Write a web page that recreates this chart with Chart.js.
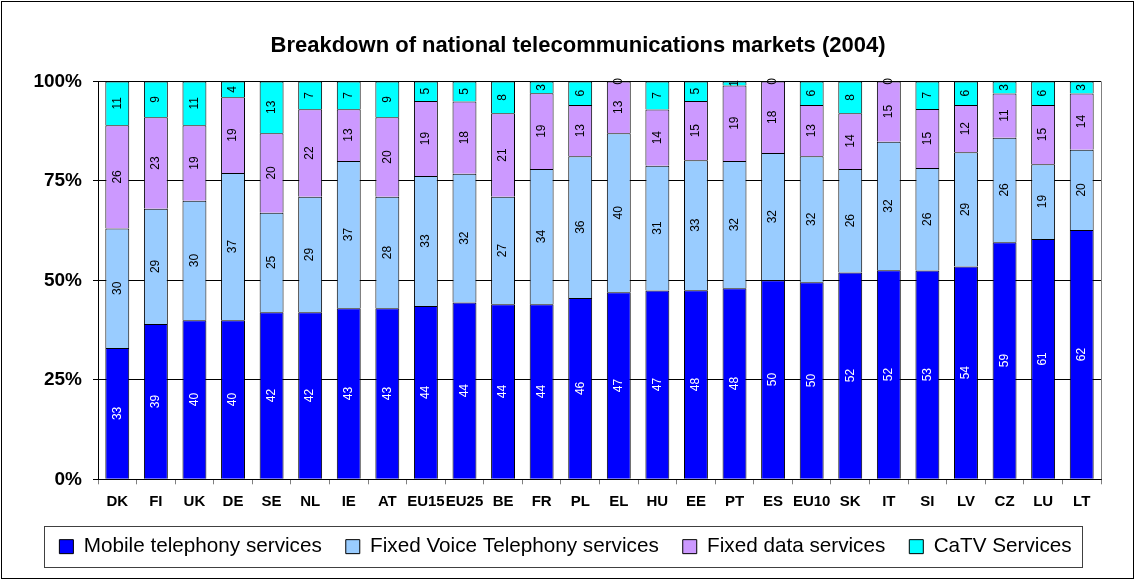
<!DOCTYPE html>
<html>
<head>
<meta charset="utf-8">
<script src="https://cdn.jsdelivr.net/npm/chart.js@4.4.1/dist/chart.umd.min.js"></script>
<style>
  html, body { margin: 0; padding: 0; background: #fff; }
</style>
</head>
<body>
<canvas id="chart" width="1136" height="581"></canvas>
<script>
// Breakdown of national telecommunications markets (2004), values in %
const countries = ['DK', 'FI', 'UK', 'DE', 'SE', 'NL', 'IE', 'AT', 'EU15', 'EU25', 'BE', 'FR', 'PL',
  'EL', 'HU', 'EE', 'PT', 'ES', 'EU10', 'SK', 'IT', 'SI', 'LV', 'CZ', 'LU', 'LT'];
const mobile     = [33, 39, 40, 40, 42, 42, 43, 43, 44, 44, 44, 44, 46, 47, 47, 48, 48, 50, 50, 52, 52, 53, 54, 59, 61, 62];
const fixedVoice = [30, 29, 30, 37, 25, 29, 37, 28, 33, 32, 27, 34, 36, 40, 31, 33, 32, 32, 32, 26, 32, 26, 29, 26, 19, 20];
const fixedData  = [26, 23, 19, 19, 20, 22, 13, 20, 19, 18, 21, 19, 13, 13, 14, 15, 19, 18, 13, 14, 15, 15, 12, 11, 15, 14];
const catv       = [11,  9, 11,  4, 13,  7,  7,  9,  5,  5,  8,  3,  6,  0,  7,  5,  1,  0,  6,  8,  0,  7,  6,  3,  6,  3];
const yTicks = [0, 25, 50, 75, 100];

const FONT = 'Arial, "Liberation Sans", sans-serif';
Chart.defaults.font.family = FONT;
Chart.defaults.color = '#000';

// 100% stacked: each column is scaled to its own total
const totals = countries.map((c, i) => mobile[i] + fixedVoice[i] + fixedData[i] + catv[i]);
const share = arr => arr.map((v, i) => v / totals[i] * 100);

function series(label, values, color, textColor) {
  return {
    label,
    data: share(values),
    values,
    textColor,
    backgroundColor: color,
    borderColor: '#000',
    borderWidth: 1,
    categoryPercentage: 1,
    barPercentage: 0.62
  };
}

// rotated value labels in the middle of each segment
const barLabels = {
  id: 'barLabels',
  afterDatasetsDraw(chart) {
    const ctx = chart.ctx;
    ctx.save();
    ctx.font = '12px ' + FONT;
    ctx.textAlign = 'center';
    ctx.textBaseline = 'middle';
    chart.data.datasets.forEach((ds, di) => {
      chart.getDatasetMeta(di).data.forEach((bar, i) => {
        ctx.save();
        ctx.translate(bar.x, (bar.y + bar.base) / 2);
        ctx.rotate(-Math.PI / 2);
        ctx.fillStyle = ds.textColor;
        ctx.fillText(String(ds.values[i]), 0, 0);
        ctx.restore();
      });
    });
    ctx.restore();
  }
};

// white background, outer frame, plot right edge and legend box
const frame = {
  id: 'frame',
  afterLayout(chart) {
    // title sits a bit right of the legend's centre in the original
    const t = chart.titleBlock;
    t.left += 25;
    t.width = t.right - t.left;
  },
  beforeDraw(chart) {
    const ctx = chart.ctx;
    ctx.save();
    ctx.fillStyle = '#fff';
    ctx.fillRect(0, 0, chart.width, chart.height);
    ctx.restore();
  },
  afterDraw(chart) {
    const ctx = chart.ctx;
    const area = chart.chartArea;
    ctx.save();
    ctx.lineWidth = 1;
    ctx.strokeStyle = '#808080';
    ctx.beginPath();
    ctx.moveTo(Math.round(area.right) + 0.5, area.top);
    ctx.lineTo(Math.round(area.right) + 0.5, area.bottom);
    ctx.stroke();

    ctx.strokeStyle = '#000';
    ctx.strokeRect(1.5, 1.5, chart.width - 4, chart.height - 4);

    const boxes = chart.legend.legendHitBoxes;
    if (boxes && boxes.length) {
      const left = Math.min(...boxes.map(b => b.left)) - 15;
      const right = Math.max(...boxes.map(b => b.left + b.width)) + 11;
      const mid = boxes[0].top + boxes[0].height / 2;
      ctx.strokeStyle = '#404040';
      ctx.strokeRect(Math.round(left) + 0.5, Math.round(mid - 21) + 0.5, Math.round(right - left), 41);
    }
    ctx.restore();
  }
};

new Chart(document.getElementById('chart'), {
  type: 'bar',
  data: {
    labels: countries,
    datasets: [
      series('Mobile telephony services', mobile, '#0000FF', '#fff'),
      series('Fixed Voice Telephony services', fixedVoice, '#99CCFF', '#000'),
      series('Fixed data services', fixedData, '#CC99FF', '#000'),
      series('CaTV Services', catv, '#00FFFF', '#000')
    ]
  },
  options: {
    responsive: false,
    animation: false,
    layout: { padding: { left: 30, right: 35, top: 0, bottom: 14 } },
    plugins: {
      title: {
        display: true,
        text: 'Breakdown of national telecommunications markets (2004)',
        font: { size: 22, weight: 'bold' },
        color: '#000',
        padding: { top: 33, bottom: 22 }
      },
      legend: {
        position: 'bottom',
        labels: {
          boxWidth: 14,
          boxHeight: 14,
          padding: 24,
          font: { size: 20.7 },
          color: '#000'
        }
      },
      tooltip: { enabled: false }
    },
    scales: {
      x: {
        stacked: true,
        grid: { offset: true, drawOnChartArea: false, tickLength: 5, color: '#808080' },
        border: { color: '#000' },
        ticks: { font: { size: 15, weight: 'bold' }, color: '#000', padding: 9, maxRotation: 0, autoSkip: false },
        afterFit: s => { s.height = 33; }
      },
      y: {
        stacked: true,
        min: 0,
        max: 100,
        afterBuildTicks: s => { s.ticks = yTicks.map(v => ({ value: v })); },
        ticks: { callback: v => v + '%', font: { size: 19, weight: 'bold' }, color: '#000', padding: 11 },
        grid: { color: '#000', tickLength: 5 },
        border: { color: '#000' },
        afterFit: s => { s.width = 68; }
      }
    }
  },
  plugins: [barLabels, frame]
});
</script>
</body>
</html>
